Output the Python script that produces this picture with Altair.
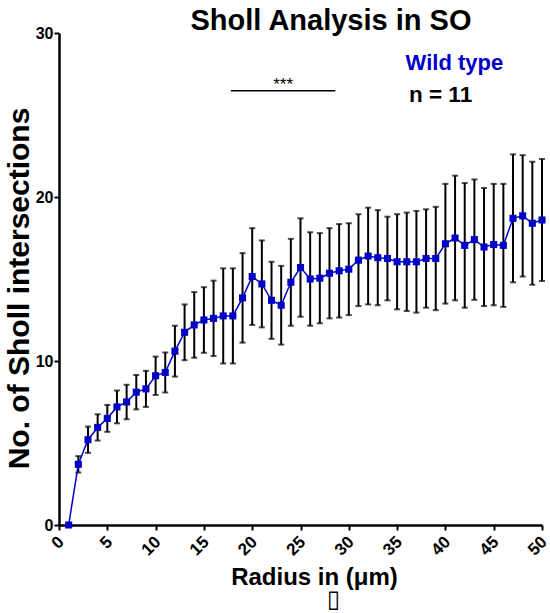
import altair as alt
import pandas as pd

# ---- data ----
radius = list(range(1, 51))
mean_intersections = [0, 3.7, 5.2, 5.95, 6.5, 7.2, 7.5, 8.1, 8.3, 9.1,
                      9.3, 10.6, 11.75, 12.2, 12.5, 12.6, 12.75, 12.75, 13.85, 15.15,
                      14.7, 13.7, 13.4, 14.8, 15.7, 15.0, 15.05, 15.35, 15.5, 15.6,
                      16.15, 16.4, 16.3, 16.25, 16.05, 16.05, 16.05, 16.25, 16.25, 17.15,
                      17.5, 17.05, 17.4, 16.95, 17.1, 17.05, 18.7, 18.85, 18.4, 18.6]
sem_intersections = [0, 0.5, 0.8, 0.8, 0.82, 1.0, 1.05, 1.05, 1.1, 1.17,
                     1.22, 1.55, 1.7, 2.0, 2.0, 2.3, 2.9, 2.9, 2.73, 2.95,
                     2.65, 2.35, 2.4, 2.65, 3.0, 2.85, 2.75, 2.75, 2.85, 2.8,
                     2.8, 2.95, 2.9, 2.55, 2.9, 3.0, 3.1, 3.0, 3.15, 3.65,
                     3.8, 3.8, 3.67, 3.6, 3.7, 3.75, 3.9, 3.7, 3.75, 3.72]
x_ticks = [0, 5, 10, 15, 20, 25, 30, 35, 40, 45, 50]
y_ticks = [0, 10, 20, 30]

sig_x = [17.8, 28.6]
sig_y = 26.48
sig_label = "***"
legend_label = "Wild type"
n_label = "n = 11"
title_text = "Sholl Analysis in SO"

df = pd.DataFrame({"radius": radius, "mean": mean_intersections, "sem": sem_intersections})
df["lo"] = df["mean"] - df["sem"]
df["hi"] = df["mean"] + df["sem"]

FONT = "Liberation Sans"
BLUE = "#0000C8"

x_scale = alt.Scale(domain=[0, 50], nice=False, zero=False)
y_scale = alt.Scale(domain=[0, 30], nice=False)

x_axis = alt.Axis(values=x_ticks, labelAngle=-45, labelAlign="right", labelBaseline="middle",
                  labelFontSize=17, labelFontWeight="bold",
                  labelFont=FONT, labelColor="black", labelPadding=9, labelOffset=2,
                  title="Radius in (μm)", titleFontSize=24, titleFont=FONT,
                  titleFontWeight="bold", titleColor="black",
                  titleX=255, titleY=59, titleBaseline="alphabetic", titleAlign="center",
                  domainColor="black", domainWidth=2.5, tickColor="black", tickWidth=2,
                  tickSize=5, grid=False)
y_axis = alt.Axis(values=y_ticks, labelFontSize=16, labelFontWeight="bold", labelFont=FONT,
                  labelColor="black", labelPadding=1,
                  title="No. of Sholl intersections", titleFontSize=30, titleFont=FONT,
                  titleFontWeight="bold", titleColor="black",
                  titleX=-31, titleY=255, titleBaseline="alphabetic", titleAlign="center",
                  titleAngle=270,
                  domainColor="black", domainWidth=2.5, tickColor="black", tickWidth=2,
                  tickSize=5, grid=False)

X = alt.X("radius:Q", scale=x_scale, axis=x_axis)

base = alt.Chart(df)

err_rules = base.mark_rule(color="black", strokeWidth=2).encode(
    x=X, y=alt.Y("lo:Q", scale=y_scale, axis=y_axis), y2="hi:Q")
caps_lo = base.transform_filter("datum.sem > 0").mark_tick(
    orient="horizontal", color="black", size=6, thickness=2).encode(
    x=X, y=alt.Y("lo:Q", scale=y_scale, axis=y_axis))
caps_hi = base.transform_filter("datum.sem > 0").mark_tick(
    orient="horizontal", color="black", size=6, thickness=2).encode(
    x=X, y=alt.Y("hi:Q", scale=y_scale, axis=y_axis))
line = base.mark_line(color=BLUE, strokeWidth=1.5).encode(
    x=X, y=alt.Y("mean:Q", scale=y_scale, axis=y_axis))
points = base.mark_point(shape="square", filled=True, color=BLUE, size=50, opacity=1).encode(
    x=X, y=alt.Y("mean:Q", scale=y_scale, axis=y_axis))

sig_df = pd.DataFrame({"radius": [sig_x[0]], "radius2": [sig_x[1]], "mean": [sig_y]})
sig_line = alt.Chart(sig_df).mark_rule(color="black", strokeWidth=1.5).encode(
    x=X, x2="radius2:Q", y=alt.Y("mean:Q", scale=y_scale, axis=y_axis))
sig_text_df = pd.DataFrame({"radius": [(sig_x[0] + sig_x[1]) / 2], "mean": [sig_y], "t": [sig_label]})
sig_text = alt.Chart(sig_text_df).mark_text(font=FONT, fontSize=17, color="black",
                                            baseline="alphabetic", align="center", dy=-1).encode(
    x=X, y=alt.Y("mean:Q", scale=y_scale, axis=y_axis), text="t:N")

leg_df = pd.DataFrame({"radius": [35.88], "mean": [27.74], "t": [legend_label]})
leg_text = alt.Chart(leg_df).mark_text(font=FONT, fontSize=22, fontWeight="bold", color=BLUE,
                                       baseline="alphabetic", align="left").encode(
    x=X, y=alt.Y("mean:Q", scale=y_scale, axis=y_axis), text="t:N")
n_df = pd.DataFrame({"radius": [36.23], "mean": [25.81], "t": [n_label]})
n_text = alt.Chart(n_df).mark_text(font=FONT, fontSize=22.5, fontWeight="bold", color="black",
                                   baseline="alphabetic", align="left").encode(
    x=X, y=alt.Y("mean:Q", scale=y_scale, axis=y_axis), text="t:N")

title_df = pd.DataFrame({"t": [title_text]})
title = alt.Chart(title_df).mark_text(font=FONT, fontSize=29, fontWeight="bold", color="black",
                                      baseline="alphabetic", align="center").encode(
    x=alt.value(272), y=alt.value(-3), text="t:N")

tofu_df = pd.DataFrame({"t": ["▯"]})
tofu = alt.Chart(tofu_df).mark_text(font="DejaVu Sans", fontSize=24, color="black",
                                     baseline="middle", align="center").encode(
    x=alt.value(274.5), y=alt.value(567), text="t:N")

chart = alt.layer(err_rules, caps_lo, caps_hi, line, points, sig_line, sig_text,
                  leg_text, n_text, title, tofu).properties(
    width=483, height=492,
    autosize=alt.AutoSizeParams(type="none"),
    padding={"left": 59, "top": 33, "right": 8, "bottom": 88},
    background="white",
).configure_view(stroke=None)

chart.save("out.html", embed_options={"renderer": "svg", "actions": False})
